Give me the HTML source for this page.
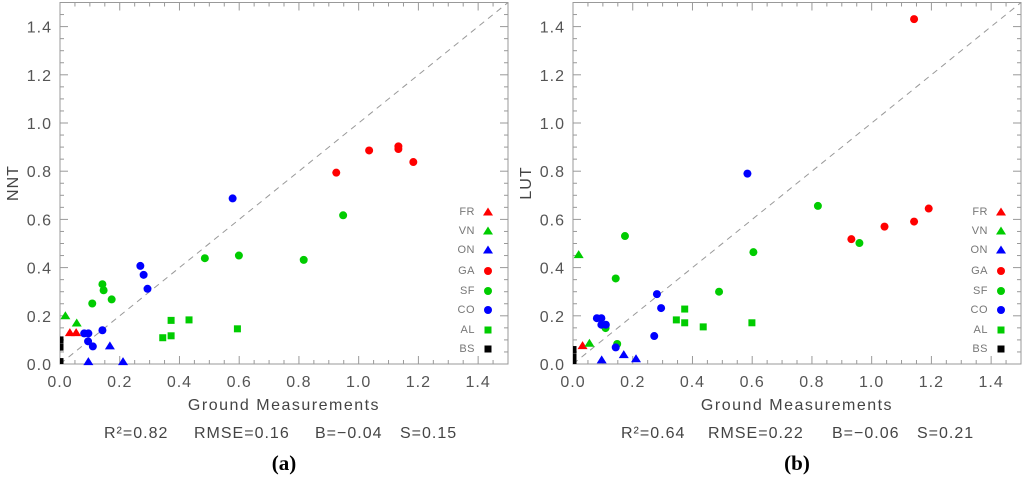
<!DOCTYPE html>
<html><head><meta charset="utf-8"><style>
html,body{margin:0;padding:0;background:#fff;}
svg{display:block;font-family:"Liberation Sans",sans-serif;}
</style></head><body>
<svg id="chart" width="1024" height="477" viewBox="0 0 1024 477"></svg>
<script>
// Panel (a) NNT data
const aFR_x=[0.033,0.054], aFR_y=[0.13,0.13];
const aVN_x=[0.018,0.056], aVN_y=[0.20,0.17];
const aON_x=[0.095,0.167,0.211], aON_y=[0.01,0.075,0.01];
const aGA_x=[0.925,1.035,1.133,1.133,1.183], aGA_y=[0.794,0.886,0.903,0.892,0.838];
const aSF_x=[0.108,0.142,0.146,0.173,0.485,0.599,0.816,0.948], aSF_y=[0.251,0.331,0.306,0.268,0.439,0.450,0.432,0.617];
const aCO_x=[0.081,0.095,0.094,0.11,0.142,0.269,0.28,0.293,0.578], aCO_y=[0.127,0.127,0.094,0.073,0.14,0.407,0.37,0.312,0.687];
const aAL_x=[0.344,0.372,0.372,0.432,0.594], aAL_y=[0.109,0.117,0.181,0.183,0.146];
const aBS_x=[0,0,0,0], aBS_y=[0.10,0.07,0.01,0.0];
// Panel (b) LUT data
const bFR_x=[0.032], bFR_y=[0.076];
const bVN_x=[0.019,0.055], bVN_y=[0.454,0.086];
const bON_x=[0.096,0.17,0.211], bON_y=[0.017,0.039,0.022];
const bGA_x=[0.932,1.043,1.142,1.191,1.142], bGA_y=[0.518,0.570,0.591,0.645,1.431];
const bSF_x=[0.109,0.148,0.143,0.174,0.489,0.604,0.82,0.959], bSF_y=[0.149,0.083,0.355,0.531,0.30,0.464,0.656,0.502];
const bCO_x=[0.080,0.095,0.095,0.11,0.143,0.272,0.281,0.295,0.584], bCO_y=[0.19,0.19,0.163,0.163,0.069,0.116,0.29,0.232,0.79];
const bAL_x=[0.346,0.374,0.374,0.436,0.599], bAL_y=[0.183,0.228,0.171,0.154,0.171];
const bBS_x=[0,0,0], bBS_y=[0.06,0.03,0.01];
const tickLabels=["0.0","0.2","0.4","0.6","0.8","1.0","1.2","1.4"];
const legendNames=["FR","VN","ON","GA","SF","CO","AL","BS"];

const NS="http://www.w3.org/2000/svg";
const svg=document.getElementById('chart');
function mk(tag,attrs,parent){const e=document.createElementNS(NS,tag);for(const k in attrs)e.setAttribute(k,attrs[k]);(parent||svg).appendChild(e);return e;}
const colors={FR:"#ff0000",VN:"#00cc00",ON:"#0000ff",GA:"#ff0000",SF:"#00cc00",CO:"#0000ff",AL:"#00cc00",BS:"#000000"};
const shapes={FR:"tri",VN:"tri",ON:"tri",GA:"circ",SF:"circ",CO:"circ",AL:"sq",BS:"sq"};

function marker(g,shape,color,cx,cy){
  let e;
  if(shape==="circ") e=mk('circle',{cx:cx,cy:cy,r:4,fill:color},g);
  else if(shape==="sq") e=mk('rect',{x:cx-3.5,y:cy-3.5,width:7,height:7,fill:color},g);
  else e=mk('polygon',{points:`${cx-5},${cy+3.5} ${cx+5},${cy+3.5} ${cx},${cy-4.5}`,fill:color},g);
  return e;
}

function panel(id,x0,ylab,letter,data,stats){
  const y0=364, W=448, H=361.5, vmax=1.5;
  const sx=v=>x0+v/vmax*W, sy=v=>y0-v/vmax*H;
  const g=mk('g',{});
  
  
  const clipId='clip'+letter;
  const cp=mk('clipPath',{id:clipId},g);mk('rect',{x:x0,y:y0-H,width:W,height:H},cp);
  const box=mk('rect',{x:x0,y:y0-H,width:W,height:H,fill:'none',stroke:'#999','stroke-width':1},g);
  
  
  for(let i=0;i<=30;i++){
    const v=i*0.05, maj=(i%4===0), L=maj?8:4;
    const px=sx(v), py=sy(v);
    mk('line',{x1:px,y1:y0,x2:px,y2:y0-L,stroke:'#999'},g);
    mk('line',{x1:px,y1:y0-H,x2:px,y2:y0-H+L,stroke:'#999'},g);
    mk('line',{x1:x0,y1:py,x2:x0+L,y2:py,stroke:'#999'},g);
    mk('line',{x1:x0+W,y1:py,x2:x0+W-L,y2:py,stroke:'#999'},g);
  }
  tickLabels.forEach((t,i)=>{
    const v=i*0.2;
    const xl=mk('text',{x:sx(v),y:387,'text-anchor':'middle','font-size':16,fill:'#555','letter-spacing':1},g);xl.textContent=t;
    
    
    const yl=mk('text',{x:x0-8,y:sy(v)+6,'text-anchor':'end','font-size':16,fill:'#555','letter-spacing':1},g);yl.textContent=t;
    
    
  });
  const dl=mk('line',{x1:sx(0),y1:sy(0),x2:sx(1.5),y2:sy(1.5),stroke:'#999','stroke-dasharray':'6,5','stroke-width':1},g);
  
  
  const pg=mk('g',{},g);
  const pgc=mk('g',{'clip-path':`url(#${clipId})`},g);
  legendNames.forEach(n=>{
    const xs=data[n][0], ys=data[n][1];
    xs.forEach((xv,i)=>{
      const m=marker(n==="BS"?pgc:pg,shapes[n],colors[n],sx(xv),sy(ys[i]));
      
      
    });
  });
  const legY=[211,230,249,270,290,309,329,348];
  legendNames.forEach((n,i)=>{
    const t=mk('text',{x:x0+W-33,y:legY[i]+4,'text-anchor':'end','font-size':11,fill:'#777','letter-spacing':0.5},g);t.textContent=n;
    
    
    const m=marker(g,shapes[n],colors[n],x0+W-20,legY[i]+1);
    
    
  });
  const xt=mk('text',{x:x0+224,y:410,'text-anchor':'middle','font-size':16,fill:'#444','letter-spacing':1.5},g);xt.textContent='Ground Measurements';
  
  
  const yt=mk('text',{x:0,y:0,'text-anchor':'middle','font-size':16,fill:'#444','letter-spacing':1,transform:`translate(${x0-42},183) rotate(-90)`},g);yt.textContent=ylab;
  
  
  stats.forEach(s=>{
    const st=mk('text',{x:s[1],y:438,'font-size':16,fill:'#444','letter-spacing':1},g);st.textContent=s[0];
    
    
  });
  const lt=mk('text',{x:x0+224,y:470,'text-anchor':'middle','font-size':21,'font-weight':'bold','font-family':'"Liberation Serif",serif',fill:'#000'},g);lt.textContent='('+letter+')';
  
  
}
panel('a',60,'NNT','a',{FR:[aFR_x,aFR_y],VN:[aVN_x,aVN_y],ON:[aON_x,aON_y],GA:[aGA_x,aGA_y],SF:[aSF_x,aSF_y],CO:[aCO_x,aCO_y],AL:[aAL_x,aAL_y],BS:[aBS_x,aBS_y]},
  [["R²=0.82",104],["RMSE=0.16",194],["B=−0.04",315],["S=0.15",400]]);
panel('b',573,'LUT','b',{FR:[bFR_x,bFR_y],VN:[bVN_x,bVN_y],ON:[bON_x,bON_y],GA:[bGA_x,bGA_y],SF:[bSF_x,bSF_y],CO:[bCO_x,bCO_y],AL:[bAL_x,bAL_y],BS:[bBS_x,bBS_y]},
  [["R²=0.64",621],["RMSE=0.22",708],["B=−0.06",832],["S=0.21",917]]);
</script>
</body></html>
